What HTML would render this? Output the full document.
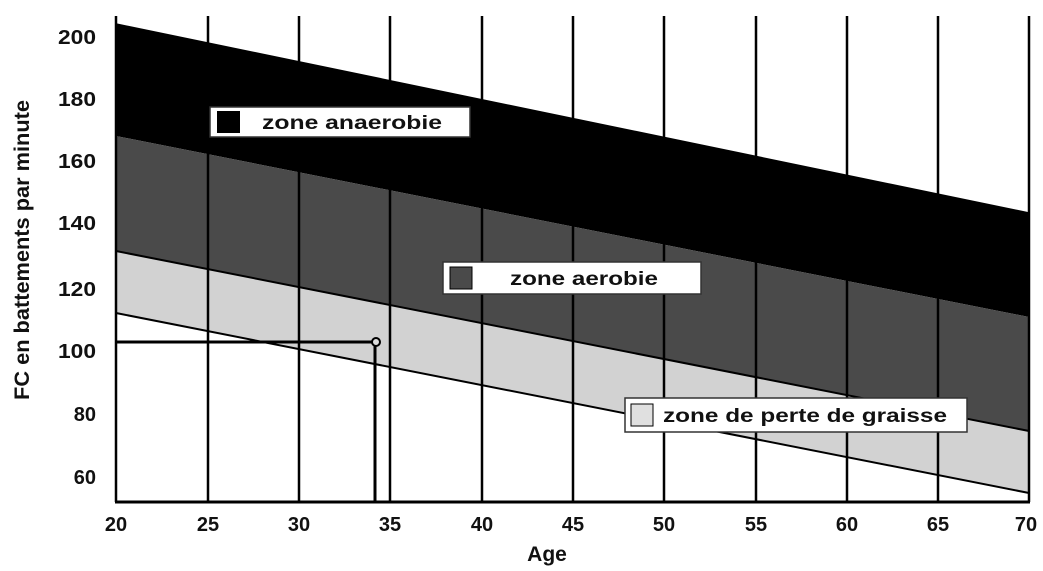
<!DOCTYPE html><html><head><style>body{margin:0;background:#fff}svg{display:block}text{font-family:"Liberation Sans",sans-serif;font-weight:bold;fill:#111}</style></head><body>
<svg width="1043" height="571" xmlns="http://www.w3.org/2000/svg">
<polygon points="116,24 1029,213 1029,317 116,136" fill="#000"/>
<polygon points="116,136 1029,317 1029,431 116,251" fill="#4a4a4a"/>
<polygon points="116,251 1029,431 1029,493 116,313" fill="#d2d2d2"/>
<g stroke="#000" stroke-width="2.5">
<line x1="116" y1="16" x2="116" y2="502"/>
<line x1="208" y1="16" x2="208" y2="502"/><line x1="299" y1="16" x2="299" y2="502"/><line x1="390" y1="16" x2="390" y2="502"/><line x1="482" y1="16" x2="482" y2="502"/><line x1="573" y1="16" x2="573" y2="502"/><line x1="664" y1="16" x2="664" y2="502"/><line x1="756" y1="16" x2="756" y2="502"/><line x1="847" y1="16" x2="847" y2="502"/><line x1="938" y1="16" x2="938" y2="502"/><line x1="1029" y1="16" x2="1029" y2="502"/>
<line x1="115" y1="502" x2="1030" y2="502" stroke-width="3"/>
<line x1="116" y1="24" x2="1029" y2="213" stroke-width="1.5"/>
<line x1="116" y1="251" x2="1029" y2="431" stroke-width="2"/>
<line x1="116" y1="313" x2="1029" y2="493" stroke-width="2"/>
<line x1="116" y1="342" x2="372" y2="342" stroke-width="3"/>
<line x1="375" y1="346" x2="375" y2="502" stroke-width="3"/>
</g>
<circle cx="376" cy="342" r="4" fill="#ddd" stroke="#000" stroke-width="2"/>
<g font-size="20" text-anchor="end">
<text x="96" y="44" textLength="38" lengthAdjust="spacingAndGlyphs">200</text><text x="96" y="106" textLength="38" lengthAdjust="spacingAndGlyphs">180</text><text x="96" y="168" textLength="38" lengthAdjust="spacingAndGlyphs">160</text><text x="96" y="230" textLength="38" lengthAdjust="spacingAndGlyphs">140</text><text x="96" y="296" textLength="38" lengthAdjust="spacingAndGlyphs">120</text><text x="96" y="358" textLength="38" lengthAdjust="spacingAndGlyphs">100</text><text x="96" y="421">80</text><text x="96" y="484">60</text></g>
<g font-size="20" text-anchor="middle">
<text x="116" y="531">20</text><text x="208" y="531">25</text><text x="299" y="531">30</text><text x="390" y="531">35</text><text x="482" y="531">40</text><text x="573" y="531">45</text><text x="664" y="531">50</text><text x="756" y="531">55</text><text x="847" y="531">60</text><text x="938" y="531">65</text><text x="1026" y="531">70</text>
<text x="547" y="561" font-size="21">Age</text>
<text transform="translate(29,250) rotate(-90)" font-size="21" textLength="300" lengthAdjust="spacingAndGlyphs">FC en battements par minute</text></g>
<rect x="210" y="107" width="260" height="30" fill="#fff" stroke="#333" stroke-width="1.5"/>
<rect x="217" y="111" width="23" height="22" fill="#000"/>
<text x="262" y="129" font-size="19" textLength="180" lengthAdjust="spacingAndGlyphs">zone anaerobie</text>
<rect x="443" y="262" width="258" height="32" fill="#fff" stroke="#333" stroke-width="1.5"/>
<rect x="450" y="267" width="22" height="22" fill="#4a4a4a" stroke="#000"/>
<text x="510" y="285" font-size="19" textLength="148" lengthAdjust="spacingAndGlyphs">zone aerobie</text>
<rect x="625" y="398" width="342" height="34" fill="#fff" stroke="#333" stroke-width="1.5"/>
<rect x="631" y="404" width="22" height="22" fill="#e0e0e0" stroke="#000"/>
<text x="663" y="422" font-size="19" textLength="284" lengthAdjust="spacingAndGlyphs">zone de perte de graisse</text>
</svg></body></html>
